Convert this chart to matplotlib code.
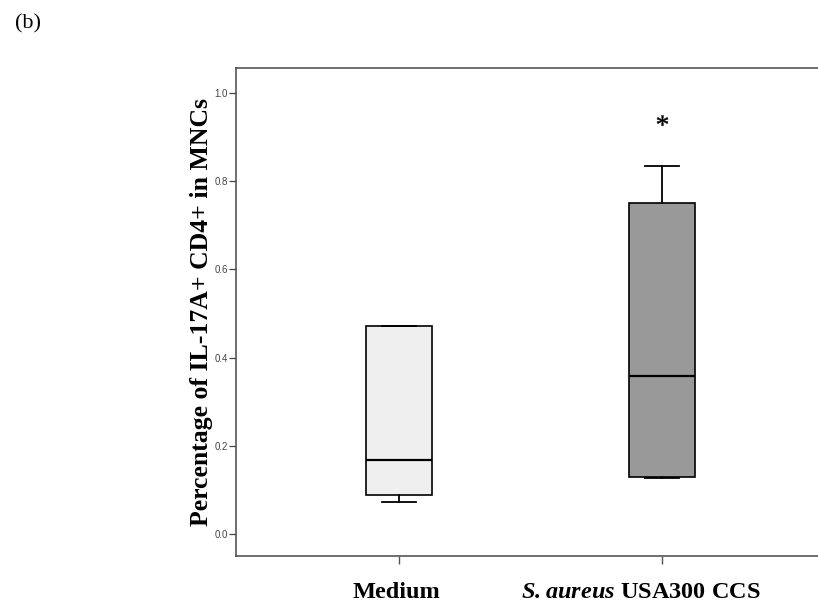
import matplotlib
matplotlib.use("Agg")
import matplotlib.pyplot as plt
import matplotlib.transforms as mtrans

# data
groups = ["Medium", r"$\mathbfit{S.aureus}$ USA300 CCS"]
medians = [0.168, 0.358]
q1s = [0.088, 0.129]
q3s = [0.472, 0.751]
whis_lo = [0.073, 0.127]
whis_hi = [0.472, 0.835]
outliers = [[], [0.939]]
box_colors = ["#efefef", "#999999"]
yticks = [0.0, 0.2, 0.4, 0.6, 0.8, 1.0]

plt.rcParams["mathtext.fontset"] = "custom"
plt.rcParams["mathtext.rm"] = "Liberation Serif"
plt.rcParams["mathtext.bfit"] = "Liberation Serif:italic:bold"

W, H = 818, 608
fig = plt.figure(figsize=(W / 100, H / 100), dpi=100)
# axes frame runs off the right edge of the picture
ax = fig.add_axes([236 / W, 1 - 556 / H, 604 / W, (556 - 68) / H])

stats = []
for i in range(len(groups)):
    stats.append(dict(med=medians[i], q1=q1s[i], q3=q3s[i],
                      whislo=whis_lo[i], whishi=whis_hi[i], fliers=outliers[i]))

bp = ax.bxp(stats, positions=[1, 2], widths=0.25, patch_artist=True,
            showfliers=True,
            boxprops=dict(edgecolor="black", linewidth=1.2),
            medianprops=dict(color="black", linewidth=1.6),
            whiskerprops=dict(color="black", linewidth=1.3),
            capprops=dict(color="black", linewidth=1.3),
            capwidths=0.13,
            flierprops=dict(marker="$*$", markersize=8, color="black",
                            markeredgewidth=0.3,
                            markeredgecolor="black", markerfacecolor="black"))
for patch, c in zip(bp["boxes"], box_colors):
    patch.set_facecolor(c)

ax.set_xlim(0.38, 2.677)
ax.set_ylim(-0.05, 1.057)

for s in ax.spines.values():
    s.set_color("#555555")
    s.set_linewidth(1.2)

ax.set_yticks(yticks)
ax.set_yticklabels(["%.1f" % v for v in yticks], fontsize=7,
                   family="Liberation Sans", color="#444444")
ax.tick_params(axis="y", length=5, width=0.9, color="#444444", pad=1)
ax.set_xticks([1, 2])
ax.set_xticklabels(groups, fontsize=17.5, family="Liberation Serif",
                   fontweight="bold")
ax.tick_params(axis="x", length=6, width=1.0, color="#555555", pad=12.5)
# the second label sits a little left of its tick in the original
offsets = [-3, -21]
for lab, dx in zip(ax.get_xticklabels(), offsets):
    lab.set_transform(lab.get_transform() +
                      mtrans.ScaledTranslation(dx / 100, 0, fig.dpi_scale_trans))

ax.set_ylabel("Percentage of IL-17A+ CD4+ in MNCs", fontsize=18.5,
              family="Liberation Serif", fontweight="bold")
ax.yaxis.set_label_coords(-0.038, 0.5)

fig.text(28 / W, 1 - 24 / H, "(b)", fontsize=16, family="Liberation Serif",
         va="center", ha="center")

fig.savefig("out.png", dpi=100)
